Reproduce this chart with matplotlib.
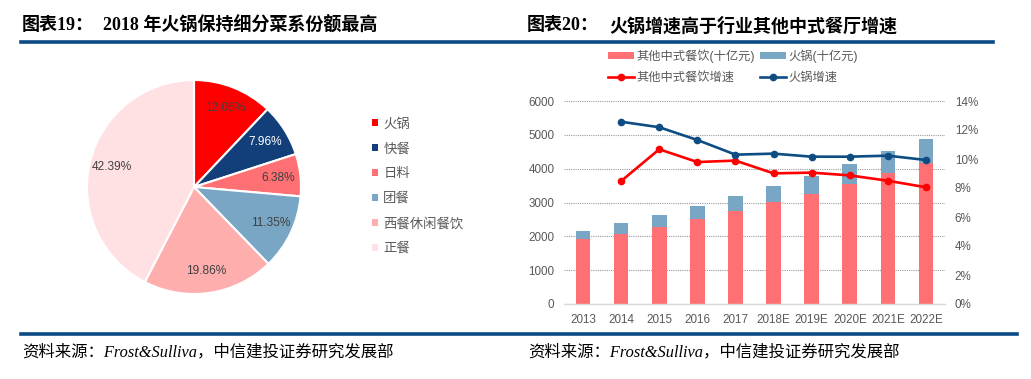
import matplotlib
matplotlib.use("Agg")
import matplotlib.pyplot as plt
from matplotlib.patches import Patch
from matplotlib.lines import Line2D
from matplotlib.ticker import FuncFormatter

plt.rcParams['font.family'] = ['Liberation Sans', 'Noto Sans CJK SC', 'DejaVu Sans']

# ---- data: pie (2018 share by cuisine) ----
pie_labels = ['火锅', '快餐', '日料', '团餐', '西餐休闲餐饮', '正餐']
pie_values = [12.06, 7.96, 6.38, 11.35, 19.86, 42.39]
pie_colors = ['#FF0000', '#123F7A', '#FF7074', '#79A6C4', '#FFAEAE', '#FFE1E4']

# ---- data: bars + growth lines ----
years = ['2013', '2014', '2015', '2016', '2017', '2018E', '2019E', '2020E', '2021E', '2022E']
other_chinese = [1909, 2065, 2280, 2499, 2743, 3009, 3265, 3560, 3863, 4178]   # 十亿元
hotpot = [253, 315, 354, 401, 452, 472, 527, 579, 662, 703]                    # 十亿元
other_growth = [None, 8.48, 10.67, 9.79, 9.89, 9.01, 9.06, 8.87, 8.50, 8.05]   # %
hotpot_growth = [None, 12.57, 12.19, 11.31, 10.30, 10.37, 10.16, 10.16, 10.23, 9.93]

W, H = 1031, 379
fig = plt.figure(figsize=(W / 100, H / 100), dpi=100)

def fx(px):
    return px / W

def fy(py):
    return 1 - py / H

gray = '#595959'
navy = '#0B4A87'

# titles
title_font = ['Liberation Serif', 'Noto Sans CJK SC']
fig.text(fx(22), fy(26), '图表19：', fontsize=13, fontweight='bold', family=title_font, va='center')
fig.text(fx(103), fy(26), '2018 年火锅保持细分菜系份额最高', fontsize=13, fontweight='bold',
         family=title_font, va='center')
fig.text(fx(527), fy(26), '图表20：', fontsize=13, fontweight='bold', family=title_font, va='center')
fig.text(fx(609), fy(26), '火锅增速高于行业其他中式餐厅增速', fontsize=13, fontweight='bold',
         family=title_font, va='center')

# rules
fig.add_artist(Line2D([fx(21), fx(993)], [fy(42), fy(42)], color=navy, lw=2.6))
fig.add_artist(Line2D([fx(21), fx(1017)], [fy(334), fy(334)], color=navy, lw=2.6))

# footnotes
note = '资料来源：Frost&Sulliva，中信建投证券研究发展部'
fig.text(fx(22), fy(352), note, fontsize=11.8, style='italic', family=title_font, va='center')
fig.text(fx(528), fy(352), note, fontsize=11.8, style='italic', family=title_font, va='center')

# ---- pie ----
cx, cy, r = 194, 187, 107
ax1 = fig.add_axes([fx(cx - r), fy(cy + r), fx(2 * r), (2 * r) / H])
wedges, texts, autotexts = ax1.pie(pie_values, colors=pie_colors, startangle=90, counterclock=False,
                                   autopct='%.2f%%', pctdistance=0.79,
                                   wedgeprops=dict(edgecolor='white', linewidth=1.5),
                                   textprops=dict(fontsize=8.6, color='#404040'))
autotexts[1].set_color('white')
ax1.set_xlim(-1, 1)
ax1.set_ylim(-1, 1)
ax1.set_aspect('equal')

handles = [Patch(facecolor=c, edgecolor='none') for c in pie_colors]
fig.legend(handles, pie_labels, loc='upper left', bbox_to_anchor=(fx(372), fy(118)),
           frameon=False, fontsize=9.6, labelcolor=gray, handlelength=0.45, handleheight=0.45,
           handletextpad=0.4, labelspacing=0.94, borderpad=0, borderaxespad=0)

# ---- bars + lines ----
ax = fig.add_axes([fx(564), fy(304), fx(945 - 564), (304 - 101) / H])
x = range(len(years))
pink = '#FF7074'
blue = '#79A6C4'
ax.bar(x, other_chinese, width=0.385, color=pink, zorder=2)
ax.bar(x, hotpot, width=0.385, bottom=other_chinese, color=blue, zorder=2)
ax.set_ylim(0, 6000)
ax.set_xlim(-0.5, len(years) - 0.5)
ax.set_yticks(range(0, 6001, 1000))
ax.set_xticks(list(x))
ax.set_xticklabels(years)
ax.grid(axis='y', color='#9A9A9A', linestyle=(0, (1, 1)), linewidth=0.8, zorder=0)
ax.set_axisbelow(True)
for s in ['top', 'right', 'left']:
    ax.spines[s].set_visible(False)
ax.spines['bottom'].set_color('#D9D9D9')
ax.spines['bottom'].set_linewidth(1)
ax.tick_params(length=0, labelsize=8.4, labelcolor=gray)
ax.tick_params(axis='y', pad=7)
ax.tick_params(axis='x', pad=7)

ax2 = ax.twinx()
yrs_g = [i for i, v in enumerate(other_growth) if v is not None]
ax2.plot(yrs_g, [other_growth[i] / 100 for i in yrs_g], color='#FF0000', lw=1.9,
         marker='o', markersize=4.5, zorder=3)
ax2.plot(yrs_g, [hotpot_growth[i] / 100 for i in yrs_g], color='#0E4D84', lw=1.9,
         marker='o', markersize=4.5, zorder=3)
ax2.set_ylim(0, 0.14)
ax2.set_yticks([i / 100 for i in range(0, 15, 2)])
ax2.yaxis.set_major_formatter(FuncFormatter(lambda v, p: '{:.0%}'.format(v)))
for s in ax2.spines.values():
    s.set_visible(False)
ax2.tick_params(length=0, labelsize=8.4, labelcolor=gray, pad=7)

leg_handles = [Patch(facecolor=pink), Line2D([], [], color='#FF0000', lw=1.9, marker='o', markersize=4.5),
               Patch(facecolor=blue), Line2D([], [], color='#0E4D84', lw=1.9, marker='o', markersize=4.5)]
leg_labels = ['其他中式餐饮(十亿元)', '其他中式餐饮增速', '火锅(十亿元)', '火锅增速']
fig.legend(leg_handles, leg_labels, ncol=2, loc='upper left', bbox_to_anchor=(fx(608), fy(49)),
           frameon=False, fontsize=8.8, labelcolor=gray, handlelength=2.1, handleheight=0.5,
           handletextpad=0.25, labelspacing=0.72, columnspacing=0.4, borderpad=0, borderaxespad=0)

fig.savefig('out.png', dpi=100)
